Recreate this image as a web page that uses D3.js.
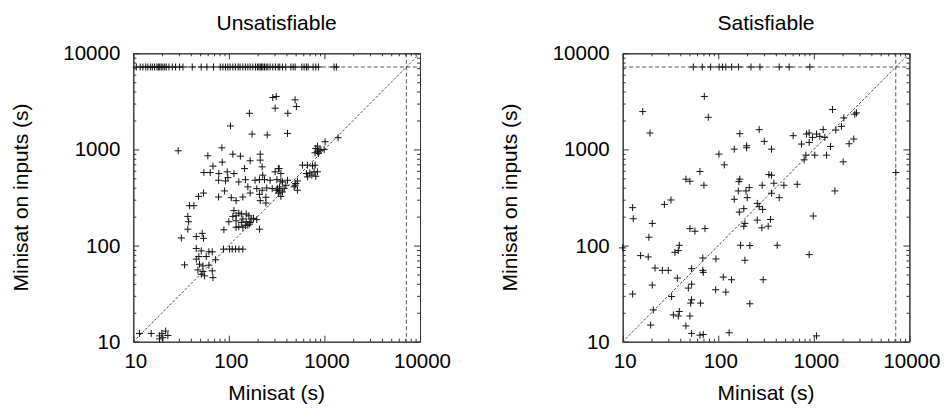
<!DOCTYPE html>
<html>
<head>
<meta charset="utf-8">
<script src="https://cdn.jsdelivr.net/npm/d3@7"></script>
<style>
  body { margin: 0; background: #fff; }
  svg { display: block; }
  text { font-family: "Liberation Sans", Arial, Helvetica, sans-serif; fill: #000; }
</style>
</head>
<body>
<svg id="chart" width="945" height="410"></svg>
<script>
// Runs that hit the time limit are plotted on the timeout line.
const timeout = 7200;
const majorTicks = [10, 100, 1000, 10000];
const panelTitles = ["Unsatisfiable", "Satisfiable"];
const xLabel = "Minisat (s)";
const yLabel = "Minisat on inputs (s)";

// Unsatisfiable: Minisat time of runs where "Minisat on inputs" timed out
const unsatTimeoutX = [10.75, 11.8, 12.6, 13.5, 14.2, 15.1, 15.8, 16.7, 17.7, 18.3, 18.9, 19.6, 20.4, 21.3,
  22.1, 23.6, 25.6, 27.7, 30.5, 33.1, 41.4, 51.4, 58.9, 69.1, 81.2, 86.6, 92.3, 97.6, 103, 110, 117, 125,
  131, 140, 149, 158, 167, 178, 190, 199, 206, 213, 220, 227, 236, 246, 256, 270, 288, 307, 328, 341, 364,
  394, 445, 471, 494, 580, 613, 648, 675, 761, 812, 866, 1262, 1334];

// Unsatisfiable: [Minisat (s), Minisat on inputs (s)]
const unsatPoints = [
  [288, 3467], [313, 3556], [305, 2685], [164, 2377], [104, 1754], [175, 1445], [252, 1413], [29.5, 968],
  [84.5, 1040], [60.3, 859], [110, 893], [132, 851], [213, 893], [213, 774], [167, 762], [85.2, 738],
  [68.1, 670], [146, 632], [223, 659], [330, 632], [54.8, 575], [63.8, 575], [78.5, 561], [96.2, 585],
  [113, 561], [226, 540], [305, 585], [78, 478], [92.3, 470], [97.7, 509], [127, 459], [149, 485],
  [188, 478], [209, 485], [236, 485], [270, 478], [318, 485], [54.3, 352], [48.2, 325], [78, 320],
  [90.2, 370], [106, 315], [140, 320], [158, 408], [167, 352], [196, 391], [209, 341], [223, 376],
  [249, 397], [284, 391], [313, 376], [339, 408],
  [119, 293], [213, 293], [244, 318], [244, 277], [38.8, 260], [43.1, 260], [37.2, 201], [37.9, 177],
  [37.2, 148], [31.8, 120], [45.6, 124], [52.6, 134], [54.3, 119], [88.7, 146], [100, 177], [113, 231],
  [119, 204], [127, 218], [135, 213], [140, 189], [152, 213], [162, 204], [171, 189], [181, 192],
  [110, 201], [119, 155], [127, 157], [140, 155], [149, 161], [158, 163], [165, 167], [152, 177],
  [167, 174], [209, 148], [196, 186], [135, 174], [119, 181], [45.6, 93.3], [51.4, 88.1], [61.8, 86.1],
  [67, 86.1], [48.5, 76.9], [58, 76.9], [45.6, 72.3], [49.3, 64], [53.5, 61.5], [61.8, 62.5], [72.6, 71.1],
  [67, 54.6], [47.4, 55.8], [53.5, 53.7], [55.7, 48.4], [68.1, 46.4], [34.4, 63], [51.4, 50.3],
  [87.9, 91.8], [101.6, 91.8], [108.4, 91.8], [117.5, 91.8], [127.4, 91.8], [140, 91.8],
  [11.6, 12.2], [15.4, 12.2], [18.8, 11.5], [19.9, 12.2], [21.8, 12.9], [23, 11.6], [20.4, 11], [18.8, 10.7],
  [493, 3281], [509, 2793], [414, 2377], [411, 1469], [1016, 1202], [1390, 1324], [845, 1084], [811, 1023],
  [879, 984], [845, 946], [916, 984], [993, 1000], [798, 923], [865, 908], [589, 686], [664, 686],
  [750, 675], [798, 686], [648, 561], [703, 570], [780, 585], [845, 585], [738, 540], [811, 526],
  [664, 518], [336, 632], [350, 561], [350, 470], [364, 459], [411, 478], [394, 424], [379, 391],
  [323, 391], [341, 376], [364, 361], [330, 352], [350, 325], [501, 442], [522, 470], [482, 408],
  [522, 376], [493, 424]
];

// Satisfiable: Minisat time of runs where "Minisat on inputs" timed out
const satTimeoutX = [54.8, 68, 83.2, 102, 111, 120, 138, 163, 220, 273, 434, 552, 908];

// Satisfiable: [Minisat (s), Minisat on inputs (s)]
const satPoints = [
  [71.4, 3556], [16.2, 2477], [78.6, 2159], [19.3, 1482], [1567, 2600], [2793, 2399], [2685, 2323],
  [2059, 2127], [1946, 1739], [1698, 1592], [1253, 1606], [838, 1446], [894, 1482], [1067, 1446],
  [1156, 1368], [968, 1334], [1303, 1334], [608, 1390], [743, 1137], [894, 1183], [2340, 1146],
  [2618, 1282], [1494, 1074], [825, 872], [792, 780], [1023, 872], [1356, 872], [2027, 743], [7200, 575],
  [1660, 370], [985, 203], [894, 80.5], [1067, 11.5], [268, 1606], [168, 1459], [303, 1213], [198, 1091],
  [198, 1040], [147, 1007], [361, 1007], [101.6, 894], [115.6, 691], [64.3, 589], [45.9, 490], [50.5, 467],
  [70.8, 424], [168, 490], [164.4, 463], [339, 548], [361, 539], [382, 445], [486, 424], [670, 434],
  [288, 424], [211, 401], [195, 370], [162, 370], [201, 315], [361, 350], [434, 315], [147, 303],
  [256, 275], [268, 254], [291, 238], [185, 242], [166, 223], [352, 187], [333, 159], [286, 153],
  [256, 184], [190, 170], [185, 159], [171, 100.7], [214, 100], [414, 100.7], [190, 70.3], [94.6, 72.6],
  [112.8, 47], [137.8, 44.1], [295, 44.1], [93.8, 34.7], [120, 32.8], [214, 24.8], [130, 12.4],
  [64.3, 11.7], [69.7, 11.9], [52.6, 12.2], [45.9, 14.6], [50.5, 18.5], [38.2, 18.5], [33.9, 19],
  [39.1, 20.6], [19.6, 14.9], [20.9, 21.4], [12.7, 31.3], [20.4, 38.8], [32.5, 29.5], [51.4, 25.2],
  [52.6, 27.3], [65.3, 25.2], [48.6, 36.1], [52.6, 39.7], [69.7, 52.6], [68.9, 55.2], [52.6, 57.5],
  [37.3, 45.9], [26, 55.2], [30, 55.2], [21.8, 58.4], [18.5, 76.2], [15.4, 78.6], [35.2, 85.1],
  [38.2, 88.7], [39.1, 100.7], [68.9, 74.3], [10, 94.6], [18.8, 122], [20.4, 170], [12.7, 248],
  [12.9, 190], [27.3, 268], [32, 298], [50.5, 150], [57, 141], [72.6, 150]
];

const svg = d3.select("#chart");
const plotW = 286.7, plotH = 288.4, plotTop = 53.3;
const fontSize = 20.5;

const panels = [
  { left: 133.3, title: panelTitles[0], timeoutX: unsatTimeoutX, points: unsatPoints },
  { left: 622.7, title: panelTitles[1], timeoutX: satTimeoutX, points: satPoints }
];

const plusPath = "M-3.5,0H3.5M0,-3.5V3.5";

panels.forEach(p => {
  const g = svg.append("g").attr("transform", `translate(${p.left},${plotTop})`);
  const x = d3.scaleLog().domain([10, 10000]).range([0, plotW]);
  const y = d3.scaleLog().domain([10, 10000]).range([plotH, 0]);
  const minorTicks = x.ticks().filter(v => !majorTicks.includes(v));
  const fmt = d3.format("d");

  // minor ticks on all four sides, pointing inward
  const minorAxes = [
    [d3.axisBottom(x), `translate(0,${plotH})`],
    [d3.axisTop(x), null],
    [d3.axisLeft(y), null],
    [d3.axisRight(y), `translate(${plotW},0)`]
  ];
  minorAxes.forEach(([ax, tr]) => {
    const a = g.append("g").attr("class", "minor")
      .call(ax.tickValues(minorTicks).tickSize(-3).tickSizeOuter(0).tickFormat(""));
    if (tr) a.attr("transform", tr);
  });

  // major ticks; labels on bottom and left only
  const bottom = g.append("g").attr("transform", `translate(0,${plotH})`)
    .call(d3.axisBottom(x).tickValues(majorTicks).tickSize(-6).tickSizeOuter(0).tickPadding(12).tickFormat(fmt));
  bottom.selectAll("text").attr("dx", 2);
  g.append("g")
    .call(d3.axisLeft(y).tickValues(majorTicks).tickSize(-6).tickSizeOuter(0).tickPadding(13).tickFormat(fmt));
  g.append("g")
    .call(d3.axisTop(x).tickValues(majorTicks).tickSize(-6).tickSizeOuter(0).tickFormat(""));
  g.append("g").attr("transform", `translate(${plotW},0)`)
    .call(d3.axisRight(y).tickValues(majorTicks).tickSize(-6).tickSizeOuter(0).tickFormat(""));

  g.selectAll(".tick line").attr("stroke", "#333").attr("stroke-width", 1);
  g.selectAll(".domain").attr("stroke", "#333").attr("stroke-width", 1);
  g.selectAll(".tick text")
    .style("font-size", fontSize + "px")
    .style("font-family", '"Liberation Sans", Arial, sans-serif')
    .attr("fill", "#000");

  // timeout lines
  g.append("line")
    .attr("x1", 0).attr("x2", plotW).attr("y1", y(timeout)).attr("y2", y(timeout))
    .attr("stroke", "#444").attr("stroke-width", 0.9).attr("stroke-dasharray", "4,2.5");
  g.append("line")
    .attr("x1", x(timeout)).attr("x2", x(timeout)).attr("y1", 0).attr("y2", plotH)
    .attr("stroke", "#444").attr("stroke-width", 0.9).attr("stroke-dasharray", "4,2.5");

  // y = x diagonal
  g.append("line")
    .attr("x1", x(10)).attr("y1", y(10)).attr("x2", x(10000)).attr("y2", y(10000))
    .attr("stroke", "#333").attr("stroke-width", 0.9).attr("stroke-dasharray", "2.5,1.8");

  // points
  const all = p.points.concat(p.timeoutX.map(v => [v, timeout]));
  g.append("g").selectAll("path.pt")
    .data(all)
    .join("path")
    .attr("class", "pt")
    .attr("d", plusPath)
    .attr("transform", d => `translate(${x(d[0])},${y(d[1])})`)
    .attr("fill", "none")
    .attr("stroke", "#111")
    .attr("stroke-width", 1);

  // titles and axis labels
  g.append("text")
    .attr("x", plotW / 2).attr("y", 30 - plotTop)
    .attr("text-anchor", "middle")
    .style("font-size", "21px")
    .text(p.title);
  g.append("text")
    .attr("x", plotW / 2).attr("y", 400 - plotTop)
    .attr("text-anchor", "middle")
    .style("font-size", "21px")
    .text(xLabel);
  g.append("text")
    .attr("transform", `translate(-105.5,${plotH / 2}) rotate(-90)`)
    .attr("text-anchor", "middle")
    .style("font-size", "21px")
    .text(yLabel);
});
</script>
</body>
</html>
